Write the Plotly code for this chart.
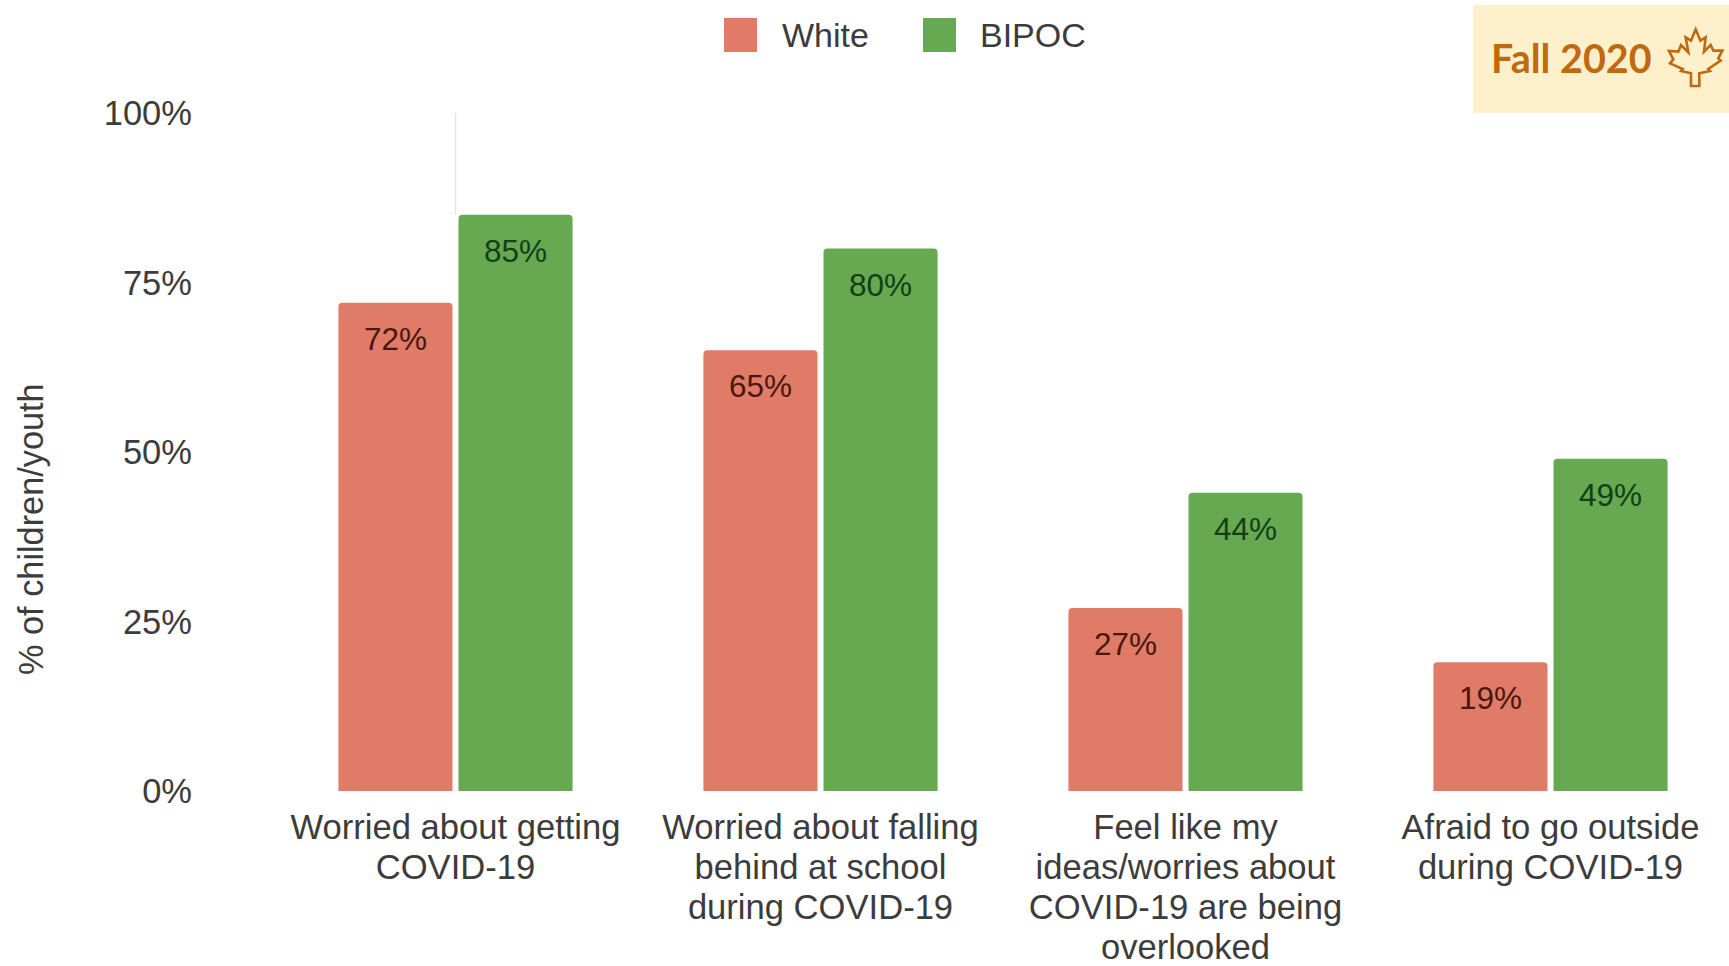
import plotly.graph_objects as go

categories = [
    ["Worried about getting", "COVID-19"],
    ["Worried about falling", "behind at school", "during COVID-19"],
    ["Feel like my", "ideas/worries about", "COVID-19 are being", "overlooked"],
    ["Afraid to go outside", "during COVID-19"],
]
white_values = [72, 65, 27, 19]
bipoc_values = [85, 80, 44, 49]
y_ticks = [0, 25, 50, 75, 100]

WHITE_COLOR = "#DF7B66"
BIPOC_COLOR = "#66A950"
TEXT_COLOR = "#3c3c3c"
BADGE_BG = "#FFF0CC"
BADGE_INK = "#C1690F"
FONT = "Liberation Sans, Arial, sans-serif"

W, H = 1729, 966
LEFT, RIGHT, TOP, BOTTOM = 273, 0, 113, 175
CATEGORY_STEP = 365


def paper_x(px):
    return (px - LEFT) / (W - LEFT - RIGHT)


def paper_y(py):
    return 1 - (py - TOP) / (H - TOP - BOTTOM)


# Category labels: glyphs are larger than the tick font so the lines stay tightly spaced
tick_text = [
    "<br>".join(f'<span style="font-size:34.6px">{line}</span>' for line in lines)
    for lines in categories
]

fig = go.Figure()
for name, values, color in (
    ("White", white_values, WHITE_COLOR),
    ("BIPOC", bipoc_values, BIPOC_COLOR),
):
    fig.add_bar(
        x=list(range(len(categories))),
        y=values,
        name=name,
        marker=dict(color=color, line_width=0, cornerradius=4),
        showlegend=False,
        hovertemplate="%{y}%<extra>" + name + "</extra>",
    )

annotations = []

# Value labels sit a fixed distance below the top of each bar
for values, shift, ink in (
    (white_values, -60, "#4a1710"),
    (bipoc_values, 60, "#123f16"),
):
    for i, v in enumerate(values):
        annotations.append(dict(
            x=i, y=v, xref="x", yref="y", text=f"{v}%", showarrow=False,
            xshift=shift, yshift=-36, xanchor="center", yanchor="middle",
            font=dict(family=FONT, size=31.5, color=ink),
        ))

# Axis title, placed below the vertical centre of the plot
annotations.append(dict(
    x=paper_x(31), y=paper_y(529), xref="paper", yref="paper",
    text="% of children/youth", textangle=-90, showarrow=False,
    xanchor="center", yanchor="middle",
    font=dict(family=FONT, size=34.3, color=TEXT_COLOR),
))

# Legend entries
annotations.append(dict(
    x=paper_x(780), y=paper_y(35), xref="paper", yref="paper", text="White",
    showarrow=False, xanchor="left", yanchor="middle",
    font=dict(family=FONT, size=34, color=TEXT_COLOR),
))
annotations.append(dict(
    x=paper_x(978), y=paper_y(35), xref="paper", yref="paper", text="BIPOC",
    showarrow=False, xanchor="left", yanchor="middle",
    font=dict(family=FONT, size=34, color=TEXT_COLOR),
))

# Season badge text
annotations.append(dict(
    x=paper_x(1489), y=paper_y(58), xref="paper", yref="paper", text="<b>Fall 2020</b>",
    showarrow=False, xanchor="left", yanchor="middle",
    font=dict(family="Lato, sans-serif", size=39.5, color=BADGE_INK),
))

shapes = [
    # Faint vertical rule above the first group
    dict(type="line", xref="x", yref="y", x0=0, x1=0, y0=85, y1=100,
         line=dict(color="#e6e6e6", width=1.5), layer="below"),
    # Legend swatches
    dict(type="rect", xref="paper", yref="paper", x0=paper_x(724), x1=paper_x(757),
         y0=paper_y(52), y1=paper_y(18), fillcolor=WHITE_COLOR, line_width=0),
    dict(type="rect", xref="paper", yref="paper", x0=paper_x(923), x1=paper_x(956),
         y0=paper_y(52), y1=paper_y(18), fillcolor=BIPOC_COLOR, line_width=0),
    # Badge background
    dict(type="rect", xref="paper", yref="paper", x0=paper_x(1473), x1=paper_x(1729),
         y0=paper_y(113), y1=paper_y(5), fillcolor=BADGE_BG, line_width=0, layer="below"),
]

# Maple leaf outline in the badge
leaf_outline = [
    (122, 28), (136, 62), (152, 52), (147, 95), (167, 75), (175, 92), (202, 92),
    (190, 115), (197, 122), (160, 147), (165, 153), (133, 160), (133, 198),
    (108, 198), (108, 160), (78, 153), (83, 147), (45, 130), (55, 118), (42, 93),
    (70, 95), (78, 75), (100, 97), (92, 52), (108, 62),
]
leaf_path = "M" + " L".join(
    f"{paper_x(1655 + a / 3):.5f},{paper_y(20 + b / 3):.5f}" for a, b in leaf_outline
) + " Z"
shapes.append(dict(type="path", xref="paper", yref="paper", path=leaf_path,
                   line=dict(color=BADGE_INK, width=2.6)))

plot_width = W - LEFT - RIGHT
fig.update_layout(
    width=W, height=H,
    margin=dict(l=LEFT, r=RIGHT, t=TOP, b=BOTTOM, autoexpand=False),
    paper_bgcolor="white", plot_bgcolor="white",
    barmode="group", bargap=0.342, bargroupgap=0.05,
    annotations=annotations, shapes=shapes,
    xaxis=dict(
        range=[-0.5, plot_width / CATEGORY_STEP - 0.5],
        tickmode="array", tickvals=list(range(len(categories))), ticktext=tick_text,
        showgrid=False, zeroline=False, showline=False, ticks="", tickangle=0,
        ticklabelstandoff=16,
        tickfont=dict(family=FONT, size=30.8, color=TEXT_COLOR),
    ),
    yaxis=dict(
        range=[0, 100],
        tickmode="array", tickvals=y_ticks, ticktext=[f"{t}%" for t in y_ticks],
        showgrid=False, zeroline=False, showline=False, ticks="",
        ticklabelstandoff=80,
        tickfont=dict(family=FONT, size=34.5, color=TEXT_COLOR),
    ),
    font=dict(family=FONT),
)

fig.write_html("out.html")
